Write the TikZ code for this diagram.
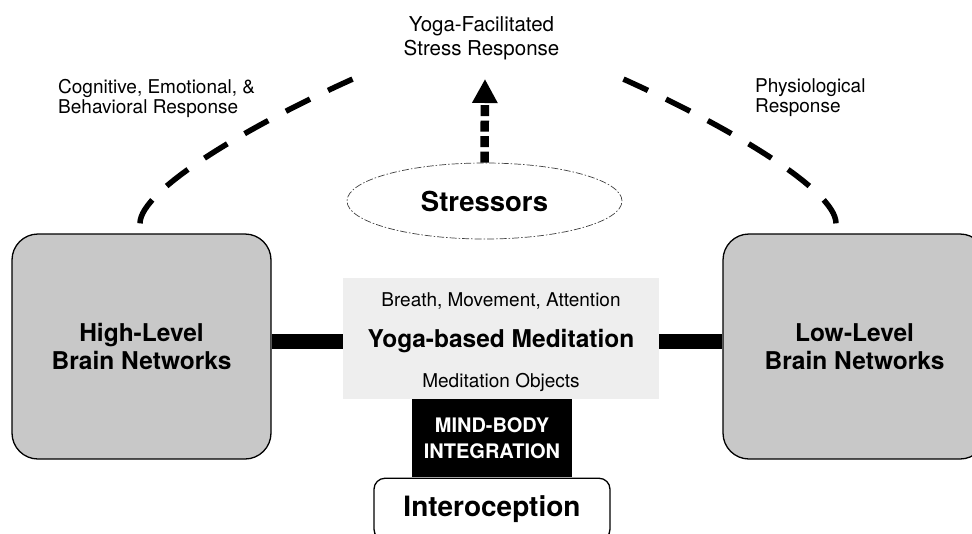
\documentclass[tikz,border=0pt]{standalone}
\usepackage{fontspec}
\setmainfont{TeX Gyre Heros}
\usetikzlibrary{shapes.geometric,arrows.meta,positioning}
\definecolor{netgray}{RGB}{200,200,200}
\definecolor{medgray}{RGB}{238,238,238}

\begin{document}
\begin{tikzpicture}[x=1pt,y=-1pt,
	network/.style={draw,line width=1.3pt,fill=netgray,rounded corners=26pt,minimum width=259pt,minimum height=225pt,inner sep=0pt,align=center,font=\fontsize{24.5}{28}\selectfont\bfseries},
	response/.style={line width=5.5pt,dash pattern=on 27pt off 20pt},
	bar/.style={line width=15pt},
	smalltext/.style={inner sep=0pt,font=\fontsize{19}{20}\selectfont}]
	\useasboundingbox (0,0) rectangle (972,533);
	%brain networks
		\node[network] (high) at (141.5,346.5) {High-Level\\Brain Networks};
		\node[network,minimum width=263pt] (low) at (854.5,346.5) {Low-Level\\Brain Networks};
	%meditation block
		\node[fill=medgray,minimum width=316pt,minimum height=121pt,inner sep=0pt,text depth=0pt,
			font=\fontsize{24.5}{28}\selectfont\bfseries] (med) at (501,338.5) {Yoga-based Meditation};
		\node[smalltext,anchor=base] (aspects) at ([yshift=-29pt]med.north) {Breath, Movement, Attention};
		\node[smalltext,anchor=base] (objects) at ([yshift=12pt]med.south) {Meditation Objects};
		\node[fill=black,text=white,minimum width=160pt,minimum height=78pt,inner sep=0pt,align=center,
			font=\fontsize{20}{26}\selectfont\bfseries,anchor=north] (mind) at ([xshift=-9pt]med.south) {MIND-BODY\\INTEGRATION};
		\node[draw,line width=1.3pt,fill=white,rounded corners=11pt,minimum width=236pt,minimum height=62pt,inner sep=0pt,
			font=\fontsize{28}{32}\selectfont\bfseries,anchor=north] (intero) at (mind.south) {Interoception};
	%links to the networks
		\coordinate (barL) at ([yshift=-3pt]med.west);
		\coordinate (barR) at ([yshift=-3pt]med.east);
		\draw[bar] (barL -| high.east) -- (barL);
		\draw[bar] (barR) -- (barR -| low.west);
	%stressors + response arrow
		\node[ellipse,draw=darkgray,line width=0.7pt,dash pattern=on 7pt off 2pt on 1.5pt off 2pt,minimum width=275pt,minimum height=76pt,
			inner sep=0pt,font=\fontsize{27.5}{32}\selectfont\bfseries] (stress) at (484.5,201) {Stressors};
		\coordinate (tip) at (485,79);
		\draw[line width=8.5pt,dash pattern=on 11pt off 4.5pt,-{Triangle[width=24pt,length=24pt]}] (stress.north) -- (tip);
		\node[smalltext,align=center,font=\fontsize{20.5}{24}\selectfont] (outcome) at (481.5,38.5) {Yoga-Facilitated\\Stress Response};
	%response curves
		\coordinate (hiend) at (355,78);
		\coordinate (loend) at (621,78);
		\draw[response] ([xshift=-1.5pt,yshift=10pt]high.north) .. controls (140,190) and (250,125) .. (hiend);
		\draw[response] ([xshift=-18.5pt,yshift=10pt]low.north) .. controls (836,190) and (726,125) .. (loend);
		\node[smalltext,align=left,anchor=west] (mindresp) at (58,98) {Cognitive, Emotional, \&\\Behavioral Response};
		\node[smalltext,align=left,anchor=west] (bodyresp) at (755,98) {Physiological\\Response};
\end{tikzpicture}
\end{document}
